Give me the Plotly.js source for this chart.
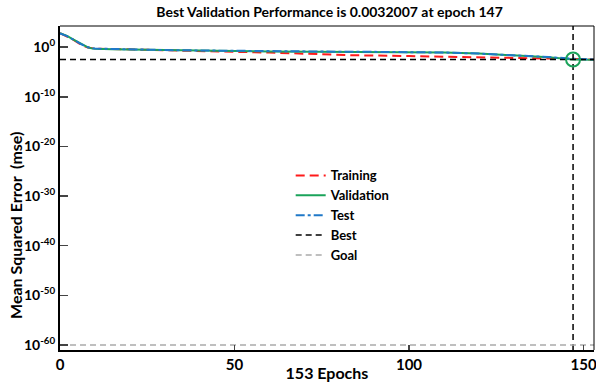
<!DOCTYPE html>
<html>
<head>
<meta charset="utf-8">
<script src="https://cdn.plot.ly/plotly-3.0.1.min.js"></script>
<style>html,body{margin:0;padding:0;background:#fff;}#chart{width:596px;height:382px;}</style>
</head>
<body>
<div id="chart"></div>
<script>
// Data
const trainEpochs = [0, 2, 4, 6, 8, 10, 15, 20, 30, 40, 50, 60, 70, 75, 85, 100, 110, 120, 130, 140, 147, 153];
const trainPerf   = [630, 150, 25, 3, 0.8, 0.5, 0.4, 0.32, 0.22, 0.16, 0.11, 0.08, 0.045, 0.03, 0.022, 0.016, 0.011, 0.008, 0.0065, 0.005, 0.004, 0.0031];
const valEpochs   = [0, 2, 4, 5, 6, 8, 9, 10, 15, 20, 30, 40, 50, 60, 70, 80, 90, 100, 110, 120, 130, 140, 147, 153];
const valPerf     = [630, 180, 30, 12, 5, 0.9, 0.55, 0.45, 0.38, 0.32, 0.25, 0.2, 0.16, 0.13, 0.12, 0.12, 0.11, 0.1, 0.08, 0.05, 0.022, 0.009, 0.0032007, 0.0030];
const testEpochs  = [0, 2, 4, 6, 8, 10, 15, 20, 30, 40, 50, 60, 70, 80, 90, 100, 110, 120, 130, 140, 147, 153];
const testPerf    = [600, 160, 28, 4, 0.9, 0.5, 0.42, 0.34, 0.26, 0.21, 0.17, 0.14, 0.13, 0.12, 0.11, 0.1, 0.08, 0.05, 0.024, 0.01, 0.0045, 0.0032];
const bestEpoch = 147;
const bestPerf = 0.0032007;
const goalPerf = 1e-60;
const xLimits = [0, 153];
const yLimitsLog = [-61, 4.25];
const yTickVals = [1e-60, 1e-50, 1e-40, 1e-30, 1e-20, 1e-10, 1];
const yTickText = ['10<sup>-60</sup>', '10<sup>-50</sup>', '10<sup>-40</sup>', '10<sup>-30</sup>', '10<sup>-20</sup>', '10<sup>-10</sup>', '10<sup>0</sup>'];
const xTickVals = [0, 50, 100, 150];

const FONT = 'Lato, "Open Sans", sans-serif';

const traces = [
  {x: trainEpochs, y: trainPerf, name: 'Training', mode: 'lines',
   line: {color: '#ff1a1a', width: 2, dash: '9px,5px'}},
  {x: valEpochs, y: valPerf, name: 'Validation', mode: 'lines',
   line: {color: '#1aa35a', width: 2}},
  {x: testEpochs, y: testPerf, name: 'Test', mode: 'lines',
   line: {color: '#1f78c8', width: 2, dash: 'dashdot'}},
  {x: [xLimits[0], xLimits[1], null, bestEpoch, bestEpoch],
   y: [bestPerf, bestPerf, null, Math.pow(10, yLimitsLog[0]), Math.pow(10, yLimitsLog[1])],
   name: 'Best', mode: 'lines', connectgaps: false,
   line: {color: '#000', width: 1.5, dash: '6px,4px'}},
  {x: xLimits, y: [goalPerf, goalPerf], name: 'Goal', mode: 'lines',
   line: {color: '#aaaaaa', width: 1.5, dash: '6px,4px'}},
  {x: [bestEpoch], y: [bestPerf], mode: 'markers', showlegend: false,
   marker: {symbol: 'circle-open', size: 14, color: '#1aa35a', line: {width: 2, color: '#1aa35a'}}}
];

const layout = {
  width: 596, height: 382,
  margin: {l: 60, r: 2, t: 26, b: 32},
  paper_bgcolor: '#fff', plot_bgcolor: '#fff',
  font: {family: FONT, size: 13, color: '#000', weight: 'bold'},
  title: {text: '<b>Best Validation Performance is 0.0032007 at epoch 147</b>',
          font: {family: FONT, size: 14, color: '#000'}, x: 0.553, xanchor: 'center', y: 0.968, yanchor: 'middle'},
  xaxis: {range: xLimits, tickvals: xTickVals, ticks: 'inside', ticklen: 5, tickwidth: 1.5,
          ticklabeloverflow: 'allow',
          showgrid: false, zeroline: false, showline: true, linewidth: 2, linecolor: '#000',
          tickfont: {family: FONT, size: 15, color: '#000', weight: 'bold'},
          title: {text: '<b>153 Epochs</b>', font: {family: FONT, size: 16, color: '#000'}, standoff: 0}},
  yaxis: {type: 'log', range: yLimitsLog, tickvals: yTickVals, ticktext: yTickText,
          ticks: 'inside', ticklen: 8, tickwidth: 1.5,
          showgrid: false, zeroline: false, showline: true, linewidth: 2, linecolor: '#000',
          tickfont: {family: FONT, size: 14, color: '#000', weight: 'bold'},
          title: {text: ''}},
  annotations: [
    {text: '<b>Mean Squared Error  (mse)</b>', xref: 'paper', yref: 'paper',
     x: -0.083, y: 0.385, xanchor: 'center', yanchor: 'middle', textangle: -90, showarrow: false,
     font: {family: FONT, size: 16, color: '#000'}}
  ],
  legend: {x: 0.432, y: 0.585, xanchor: 'left', yanchor: 'top', bgcolor: 'rgba(0,0,0,0)',
           font: {family: FONT, size: 13, color: '#000', weight: 'bold'}, tracegroupgap: 0},
  shapes: [
    {type: 'line', xref: 'paper', yref: 'paper', x0: 0, x1: 1, y0: 1, y1: 1, line: {color: '#000', width: 1}},
    {type: 'line', xref: 'paper', yref: 'paper', x0: 1, x1: 1, y0: 0, y1: 1, line: {color: '#000', width: 1}}
  ],
  showlegend: true
};

Plotly.newPlot('chart', traces, layout, {displayModeBar: false, staticPlot: true});
</script>
</body>
</html>
